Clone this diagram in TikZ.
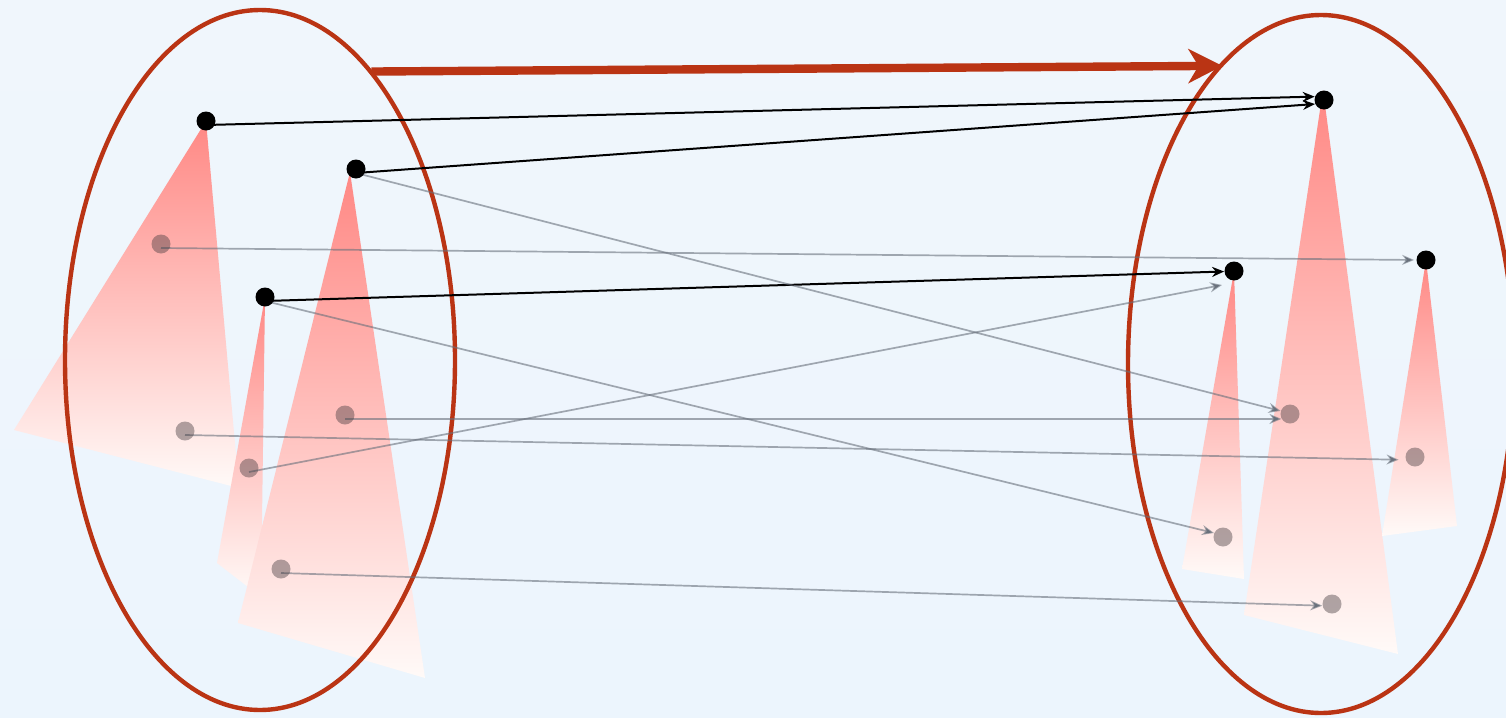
\documentclass[tikz,border=0pt]{standalone}
\usetikzlibrary{arrows.meta,shapes.geometric}
\pgfdeclarelayer{back}
\pgfdeclarelayer{mid}
\pgfsetlayers{back,mid,main}
\definecolor{bgtop}{RGB}{240,246,252}
\definecolor{bgbot}{RGB}{236,245,253}
\definecolor{rim}{RGB}{186,52,20}
\definecolor{salmon}{RGB}{255,136,132}
\definecolor{blush}{RGB}{255,250,248}
\definecolor{link}{RGB}{105,113,124}
\definecolor{ghost}{RGB}{66,56,60}
\begin{document}
\begin{tikzpicture}[x=0.5pt,y=-0.5pt,
  dot/.style={circle,fill=black,minimum size=9.5pt,inner sep=0pt},
  ghostdot/.style={circle,fill=ghost,fill opacity=0.42,minimum size=9.5pt,inner sep=0pt},
  rimellipse/.style={ellipse,draw=rim,line width=2.2pt,inner sep=0pt},
  tri/.style={top color=salmon,bottom color=blush,draw=none},
  mainlink/.style={black,line width=1pt,-{Stealth[length=6pt,width=5pt]}},
  sublink/.style={link,draw opacity=0.6,line width=0.85pt,-{Stealth[length=6pt,width=5pt]}},
  bigarrow/.style={rim,line width=4.2pt,-{Stealth[length=17pt,width=17pt,inset=5pt]}}
]
\useasboundingbox (0,0) rectangle (1506,718);
\begin{pgfonlayer}{back}
\shade[top color=bgtop,bottom color=bgbot] (0,0) rectangle (1506,718);
% cones
\shade[tri] (206,121) -- (14,430) -- (239,488) -- cycle;
\shade[tri] (265,297) -- (217,563) -- (261,597) -- cycle;
\shade[tri] (350,172) -- (238,623) -- (425,678) -- cycle;
\shade[tri] (1323,90) -- (1244,615) -- (1398,654) -- cycle;
\shade[tri] (1234,271) -- (1182,569) -- (1244,579) -- cycle;
\shade[tri] (1426,260) -- (1382,536) -- (1457,526) -- cycle;
% ellipses
\node[rimellipse,minimum width=195pt,minimum height=350pt] (L) at (260,360) {};
\node[rimellipse,minimum width=193pt,minimum height=349pt] (R) at (1321,364) {};
\draw[bigarrow] ([yshift=-1pt]L.69) -- ([yshift=-2.5pt]R.108);
\end{pgfonlayer}
% dots
\node[dot] (A1) at (206,121) {};
\node[dot] (A2) at (356,169) {};
\node[dot] (A3) at (265,297) {};
\node[dot] (B1) at (1324,100) {};
\node[dot] (B2) at (1234,271) {};
\node[dot] (B3) at (1426,260) {};
\node[ghostdot] (g1) at (161,244) {};
\node[ghostdot] (g2) at (345,415) {};
\node[ghostdot] (g3) at (185,431) {};
\node[ghostdot] (g4) at (249,468) {};
\node[ghostdot] (g5) at (281,569) {};
\node[ghostdot] (h1) at (1290,414) {};
\node[ghostdot] (h2) at (1415,457) {};
\node[ghostdot] (h3) at (1223,537) {};
\node[ghostdot] (h4) at (1332,604) {};
\coordinate (B2low) at (1222,285);
\begin{pgfonlayer}{mid}
\draw[mainlink] ([yshift=-2pt]A1.center) -- (B1.160);
\draw[mainlink] ([yshift=-2pt]A2.center) -- (B1.204);
\draw[mainlink] ([yshift=-2pt]A3.center) -- (B2.183);
\draw[sublink] ([yshift=-2pt]A2.center) -- (h1.162);
\draw[sublink,shorten >=1pt] ([yshift=-2pt]g1.center) -- (B3.west);
\draw[sublink] ([yshift=-2pt]A3.center) -- (h3.156);
\draw[sublink] ([yshift=-2pt]g4.center) -- (B2low);
\draw[sublink] ([yshift=-2pt]g2.center) -- (h1.210);
\draw[sublink,shorten >=3.5pt] ([yshift=-2pt]g3.center) -- (h2.197);
\draw[sublink] ([yshift=-2pt]g5.center) -- (h4.190);
\end{pgfonlayer}
\end{tikzpicture}
\end{document}
